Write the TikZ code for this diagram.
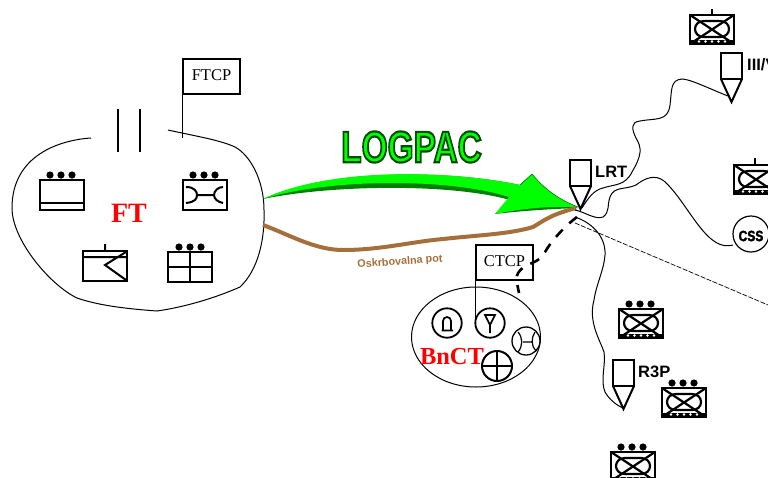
\documentclass[tikz,border=0pt]{standalone}
\usepackage{fontspec}
\setmainfont{Liberation Serif}
\setsansfont{Liberation Sans}
\usetikzlibrary{calc,shapes.geometric}
\definecolor{brownline}{HTML}{A56F3B}
\definecolor{dkgreen}{HTML}{007F00}
\definecolor{brgreen}{HTML}{00FF00}
\newfontfamily\logofont{Liberation Sans Bold}
\newfontfamily\cssfont[FakeBold=2]{Liberation Sans Bold}
\tikzset{
  sym/.style={line width=2pt,draw=black},
  thin curve/.style={line width=1pt,draw=black},
  flagbox/.style={draw=black,line width=1.1pt,inner sep=0pt,font=\fontsize{16.5}{16.5}\selectfont},
  pinlabel/.style={font=\sffamily\bfseries\fontsize{16.5}{16.5}\selectfont,anchor=west,inner sep=0pt},
  redlabel/.style={text=red,font=\bfseries\fontsize{28}{28}\selectfont,inner sep=0pt},
  unit/.pic={
    \draw[line width=2.4pt] (0,0) rectangle (44,30);
  },
  threedots/.pic={
    \foreach \k in {-11,0,11}{\fill (\k,0) circle (3.6);}
  },
  tracked/.pic={
    \fill (0,25) rectangle (44,29);
    \foreach \k in {9,15.5,22,28.5,35}{\fill[white] (\k,26.5) circle (1.4);}
    \draw[line width=2.8pt] (0,0) rectangle (44,29);
    \draw[line width=2.2pt] (0,0) -- (44,29) (44,0) -- (0,29);
    \draw[line width=2.2pt] (14,6) .. controls (2,6) and (2,22) .. (14,22) -- (30,22) .. controls (42,22) and (42,6) .. (30,6) -- cycle;
  },
  pin/.pic={
    \draw[line width=2pt] (0,0) rectangle (21,26);
    \draw[line width=2pt] (0,26) -- (10.5,49) -- (21,26);
  }
}
\begin{document}
\begin{tikzpicture}[x=1pt,y=-1pt]
\useasboundingbox (0,0) rectangle (768,477);
\begin{scope}
\clip (0,0) rectangle (768,477);

% FT outline
\draw[thin curve] (91,138) .. controls (60,140) and (12,155) .. (12,208)
  .. controls (12,240) and (50,285) .. (77,298) .. controls (100,306) and (130,309) .. (157,311)
  .. controls (185,307) and (215,298) .. (240,287) .. controls (258,270) and (265,240) .. (264,210) .. controls (264,180) and (250,155) .. (235,147)
  .. controls (220,140) and (195,136) .. (168,130);
\draw[line width=1.1pt] (118,109) -- (118,152) (140,109) -- (140,152);
\node[flagbox,minimum width=57pt,minimum height=35pt] (ftcp) at (211.5,76.5) {\raisebox{2pt}{FTCP}};
\draw[line width=1.2pt] (ftcp.south west) -- ++(0,43);

% symbols of FT
\pic at (40,180) {unit};
\draw[sym] (40,203) -- (84,203);
\pic at (61,175) {threedots};
\pic at (183,180) {unit};
\pic at (204,175) {threedots};
\draw[sym] (186,187) .. controls (195,187) and (197,192) .. (197,195) .. controls (197,199) and (195,202) .. (186,203)
  (197,195) -- (214,195)
  (223,187) .. controls (218,187) and (214,191) .. (214,195) .. controls (214,199) and (218,202) .. (223,203);
\pic at (83,251) {unit};
\draw[sym] (105,251) -- (105,244) (83,257) -- (127,257) (126,252) -- (105,265) -- (126,280);
\pic at (168,252) {unit};
\pic at (190,247) {threedots};
\draw[sym] (190,252) -- (190,281) (168,267) -- (212,267);
\node[redlabel] (ft) at (129,213) {FT};

% green arrow
\fill[dkgreen] (263,199) .. controls (330,168) and (450,170) .. (520,185)
  -- (532,174) .. controls (545,190) and (560,200) .. (578,208)
  .. controls (550,209) and (520,211) .. (495,214) -- (510,200)
  .. controls (450,183) and (330,185) .. (263,199) -- cycle;
\fill[brgreen] (263,199) .. controls (330,167) and (450,170) .. (520,185)
  -- (532,174) .. controls (545,190) and (560,200) .. (578,207)
  .. controls (550,206) and (525,208) .. (495,214) -- (509,197)
  .. controls (450,178) and (330,178) .. (263,199) -- cycle;
\draw[dkgreen,line width=0.6pt] (520,185) -- (532,174) .. controls (545,190) and (560,200) .. (578,207);
\node[inner sep=0pt,xscale=.76] (logpac) at (411.5,147) {\logofont\fontsize{44}{44}\selectfont\special{pdf:code 2 Tr 2.2 w 0 .3 0 RG 0 1 0 rg}LOGPAC\special{pdf:code 0 Tr}};

% supply route
\draw[brownline,line width=4pt] (263,225) .. controls (290,235) and (315,250) .. (343,250)
  .. controls (380,250) and (410,242) .. (443,239) .. controls (480,235) and (510,234) .. (533,227)
  .. controls (545,220) and (550,215) .. (576,208);
\node[text=brownline,font=\sffamily\bfseries\fontsize{10.8}{11}\selectfont,rotate=4,inner sep=0pt] (route) at (400,262) {Oskrbovalna pot};

% BnCT
\node[draw,thin curve,ellipse,minimum width=129pt,minimum height=100pt,inner sep=0pt] (bnctoval) at (476,337) {};
\draw[line width=1.8pt] (447,323) circle (14.7) (490,323) circle (14.7);
\draw[line width=1.3pt] (526,341) circle (14);
\draw[line width=2pt] (497,366) circle (15);
\draw[line width=1.8pt] (497,351) -- (497,381) (482,366) -- (512,366);
\draw[line width=1.7pt] (441.5,330.5) -- (453,330.5) (443,330.5) -- (443,321) arc (180:360:4) -- (451,330.5);
\draw[line width=1.7pt] (485,315) -- (495,315) -- (490,325) -- cycle (490,325) -- (490,333);
\draw[line width=1.2pt] (518,332) .. controls (523,338) and (523,346) .. (518,352)
  (535,332) .. controls (531,338) and (531,346) .. (536,351) (523,342) -- (532,342);
\node[flagbox,minimum width=57pt,minimum height=35pt] (ctcp) at (504.5,262.5) {\raisebox{2pt}{CTCP}};
\draw[line width=1.2pt] (ctcp.south west) -- ++(0,38);
\node[redlabel,font=\bfseries\fontsize{24.5}{24.5}\selectfont] (bnct) at (452,357) {BnCT};

% thin dashed
\draw[line width=0.7pt,dash pattern=on 5pt off 1.5pt] (575,223) -- (768,305);
% thick dashed
\draw[line width=2.6pt,dash pattern=on 10pt off 9pt] (577,217) .. controls (565,226) and (552,240) .. (545,252)
  .. controls (542,258) and (537,261) .. (532,263) .. controls (524,266) and (514,272) .. (517,283) -- (519,293);

% wiggly lines
\draw[thin curve] (582,208) .. controls (588,198) and (594,190) .. (603,188) .. controls (615,184) and (625,186) .. (632,172)
  .. controls (642,155) and (642,148) .. (636,138) .. controls (632,130) and (630,122) .. (640,121)
  .. controls (655,118) and (668,122) .. (670,105) .. controls (672,90) and (670,80) .. (682,79)
  .. controls (690,79) and (710,89) .. (728,96);
\draw[thin curve] (575,210) .. controls (585,212) and (595,220) .. (603,217) .. controls (610,212) and (607,205) .. (610,197)
  .. controls (614,186) and (625,190) .. (636,185) .. controls (645,178) and (655,174) .. (664,181)
  .. controls (680,195) and (695,225) .. (710,238) .. controls (718,245) and (725,247) .. (733,245);
\draw[thin curve] (575,217) .. controls (590,222) and (606,235) .. (605,255) .. controls (604,270) and (596,285) .. (594,300)
  .. controls (588,322) and (600,340) .. (604,352) .. controls (606,365) and (600,380) .. (605,392)
  .. controls (609,399) and (616,405) .. (623,408);

% pins
\pic at (570,160) {pin};
\node[pinlabel] (lrt) at (595,172) {LRT};
\pic at (721,53) {pin};
\node[pinlabel] (iii) at (747,65) {III/V};
\pic at (613,360) {pin};
\node[pinlabel] (r3p) at (638,372) {R3P};

% tracked units
\pic at (690,15) {tracked};
\draw[sym] (712,15) -- (712,9);
\pic at (734,165) {tracked};
\draw[sym] (755,165) -- (755,158);
\pic at (619,309) {tracked};
\pic at (640,304) {threedots};
\pic at (662,388) {tracked};
\pic at (683,383) {threedots};
\pic at (611,452) {tracked};
\pic at (632,447) {threedots};

% CSS
\draw[line width=1.2pt] (751,234) circle (18);
\node[inner sep=0pt,xscale=.8] (css) at (751,236) {\cssfont\fontsize{15}{15}\selectfont CSS};
\end{scope}
\end{tikzpicture}
\end{document}
